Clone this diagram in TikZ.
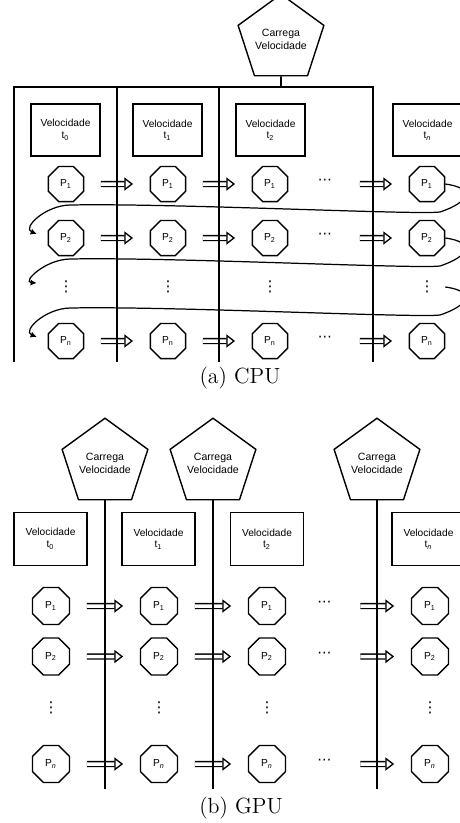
\documentclass[tikz,border=0pt]{standalone}
\usepackage{fontspec}
\newfontfamily\arialfont{Liberation Sans}
\newfontfamily\dejafont{DejaVu Sans}
\usetikzlibrary{arrows.meta,shapes.geometric,calc}

\newcommand{\vdts}{{\dejafont\fontsize{8.5}{8.5}\selectfont ⋮}}
\newcommand{\hdts}{\raisebox{2pt}{\dejafont\fontsize{8}{8}\selectfont ⋯}}

\begin{document}
\begin{tikzpicture}[x=0.02cm, y=-0.02cm,
	octa/.style={draw, regular polygon, regular polygon sides=8, minimum size=0.76cm,
		inner sep=0pt, line width=0.8pt, font=\arialfont\fontsize{5.8}{6.6}\selectfont},
	blank/.style={octa, draw=none},
	velbox/.style={draw, minimum width=1.38cm, minimum height=1.04cm, line width=0.8pt,
		align=center, font=\arialfont\fontsize{5.8}{6.6}\selectfont},
	loader/.style={draw, regular polygon, regular polygon sides=5, minimum size=1.37cm,
		inner sep=0pt, line width=0.8pt, align=center, font=\arialfont\fontsize{6}{7.4}\selectfont},
	arr/.style={double, double distance=2pt, line width=0.75pt,
		-{Triangle[open, length=5pt, width=7.5pt]}, shorten <=9.5pt, shorten >=9.5pt},
	back/.style={line width=0.7pt, -{Latex[length=3.5pt, width=3.5pt]}},
	bar/.style={line width=0.9pt},
	caption/.style={font=\fontsize{12.5}{14}\selectfont}
]
	\useasboundingbox (0,0) rectangle (460,823);

	% (a) CPU
	\node[loader] (ldA) at (281,39.3) {Carrega\\Velocidade};
	\coordinate (busA) at (281,87);
	\node[velbox] (va1) at (65.5,130) {Velocidade\\t\textsubscript{0}};
	\node[velbox] (va2) at (167.5,130) {Velocidade\\t\textsubscript{1}};
	\node[velbox] (va3) at (270.5,130) {Velocidade\\t\textsubscript{2}};
	\node[velbox] (va4) at (427.5,130) {Velocidade\\t\textsubscript{\itshape n}};
	\foreach \c/\x in {1/66, 2/168, 3/270, 4/427} {
		\node[octa] (pa1\c) at (\x,184) {P\textsubscript{1}};
		\node[octa] (pa2\c) at (\x,238) {P\textsubscript{2}};
		\node[blank] (pa3\c) at (\x,287) {\vdts};
		\node[octa] (pa4\c) at (\x,341) {P\textsubscript{n}};
	}
	\foreach \r/\y in {1/184, 2/238, 4/341} {
		\node[blank] (ca\r) at (325,\y) {\hdts};
		\draw[arr] (pa\r1) -- (pa\r2);
		\draw[arr] (pa\r2) -- (pa\r3);
		\draw[arr] (ca\r) -- (pa\r4);
	}
	\foreach \a/\b/\r in {pa14/pa21/184, pa24/pa31/238, pa34/pa41/287} {
		\draw[back] (\a.east) .. controls +(30,4) and (470,\r+18) .. (440,\r+28)
			.. controls (415,\r+31) and (170,\r+19) .. (70,\r+21)
			.. controls (45,\r+21.5) and (22,\r+44) .. ($(\b.west)+(-11,-4)$);
	}
	\draw[bar] (ldA.south) -- (busA);
	\draw[bar] (14,362) |- (373,87) -- (373,362);
	\draw[bar] (117,87) -- (117,362);
	\draw[bar] (219,87) -- (219,362);
	\node[caption] (capA) at (240,378) {(a) CPU};

	% (b) GPU
	\node[loader] (ldB1) at (105,463.3) {Carrega\\Velocidade};
	\node[loader] (ldB2) at (213,463.3) {Carrega\\Velocidade};
	\node[loader] (ldB3) at (377,463.3) {Carrega\\Velocidade};
	\node[velbox, minimum width=1.46cm, minimum height=1.07cm] (vb1) at (50.5,539) {Velocidade\\t\textsubscript{0}};
	\node[velbox, minimum width=1.46cm, minimum height=1.07cm] (vb2) at (158.5,539) {Velocidade\\t\textsubscript{1}};
	\node[velbox, minimum width=1.46cm, minimum height=1.07cm] (vb3) at (267,539) {Velocidade\\t\textsubscript{2}};
	\node[velbox, minimum width=1.46cm, minimum height=1.07cm] (vb4) at (428.5,539) {Velocidade\\t\textsubscript{\itshape n}};
	\foreach \c/\x in {1/51, 2/159, 3/267, 4/430} {
		\node[octa, minimum size=0.8cm] (pb1\c) at (\x,606) {P\textsubscript{1}};
		\node[octa, minimum size=0.8cm] (pb2\c) at (\x,656.5) {P\textsubscript{2}};
		\node[blank, minimum size=0.8cm] (pb3\c) at (\x,708) {\vdts};
		\node[octa, minimum size=0.8cm] (pb4\c) at (\x,764) {P\textsubscript{\itshape n}};
	}
	\foreach \r/\y in {1/606, 2/656.5, 4/764} {
		\node[blank, minimum size=0.8cm] (cb\r) at (324.5,\y) {\hdts};
		\draw[arr] (pb\r1) -- (pb\r2);
		\draw[arr] (pb\r2) -- (pb\r3);
		\draw[arr] (cb\r) -- (pb\r4);
	}
	\draw[bar] (ldB1.south) -- ++(0,289);
	\draw[bar] (ldB2.south) -- ++(0,289);
	\draw[bar] (ldB3.south) -- ++(0,289);
	\node[caption] (capB) at (241,808) {(b) GPU};
\end{tikzpicture}
\end{document}
